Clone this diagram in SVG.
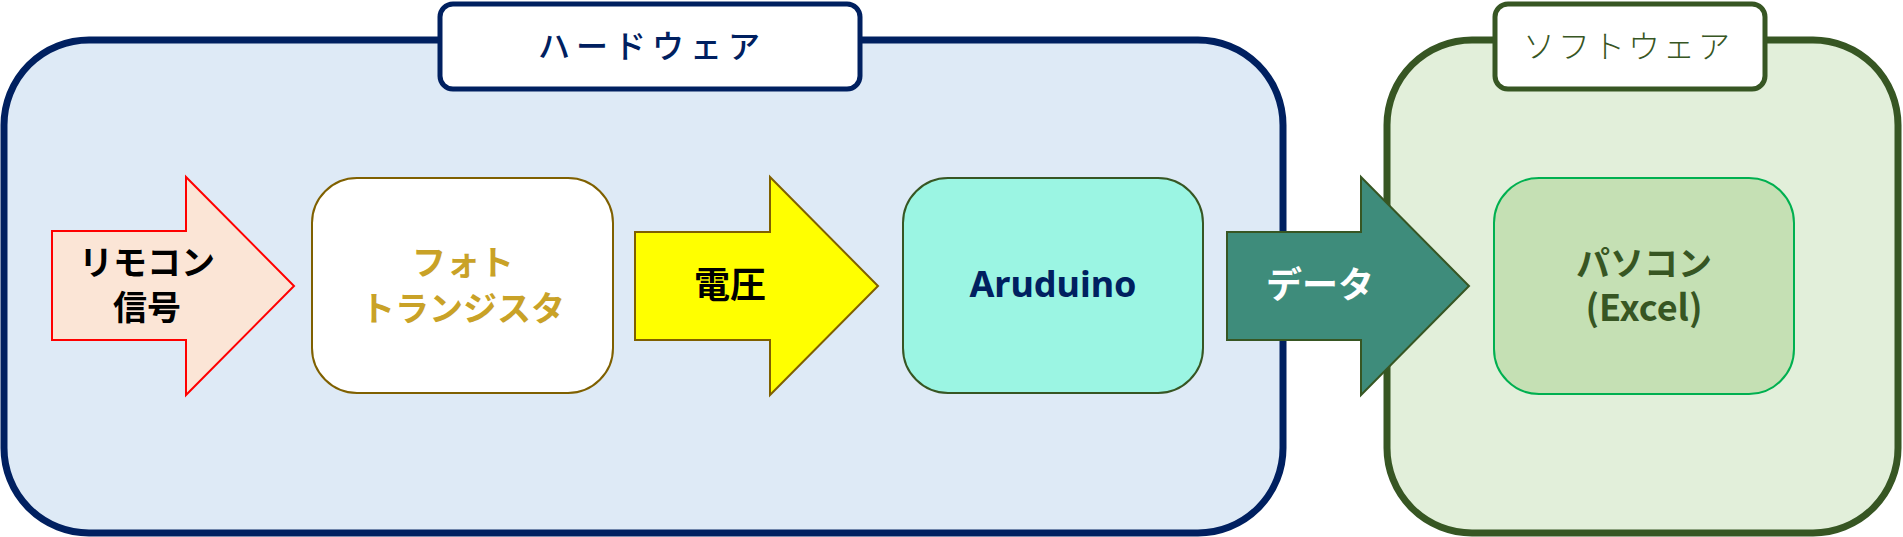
<svg xmlns="http://www.w3.org/2000/svg" width="1903" height="537" viewBox="0 0 1903 537">
<style>
.jp{font-family:"Noto Sans CJK JP","Noto Sans",sans-serif;text-anchor:middle;font-weight:bold}
.lat{font-family:"Noto Sans","Liberation Sans",sans-serif;text-anchor:middle;font-weight:bold}
.node{stroke-width:2}
</style>
<rect width="1903" height="537" fill="#ffffff"/>
<g id="hardware">
<rect x="4" y="40" width="1279" height="493" rx="85" ry="85" fill="#DEEAF6" stroke="#002060" stroke-width="7"/>
<rect x="440" y="4" width="420" height="85" rx="13" fill="#ffffff" stroke="#002060" stroke-width="5"/>
<text x="652" y="58" class="jp" style="font-weight:500" font-size="32" letter-spacing="6" fill="#002060">ハードウェア</text>
</g>
<g id="software">
<rect x="1387" y="40" width="511" height="493" rx="85" ry="85" fill="#E2EFDA" stroke="#375623" stroke-width="7"/>
<rect x="1495" y="4" width="270" height="85" rx="13" fill="#ffffff" stroke="#375623" stroke-width="5"/>
<text x="1628" y="58" class="jp" style="font-weight:300" font-size="32" letter-spacing="3" fill="#375623">ソフトウェア</text>
</g>
<g id="phototransistor">
<rect x="312" y="178" width="301" height="215" rx="45" fill="#ffffff" stroke="#7F6000" class="node"/>
<text x="463" y="275" class="jp" font-size="34" fill="#C9A227">フォト</text>
<text x="463" y="321" class="jp" font-size="34" fill="#C9A227">トランジスタ</text>
</g>
<g id="arduino">
<rect x="903" y="178" width="300" height="215" rx="45" fill="#9BF5E3" stroke="#375623" class="node"/>
<text x="1053" y="297" class="lat" font-size="36" fill="#002060">Aruduino</text>
</g>
<g id="pc">
<rect x="1494" y="178" width="300" height="216" rx="45" fill="#C5E0B4" stroke="#00B050" class="node"/>
<text x="1644" y="276" class="jp" font-size="34" fill="#375623">パソコン</text>
<text x="1644" y="321" class="jp" font-size="36" fill="#375623">(Excel)</text>
</g>
<g id="connectors">
<g id="signal">
<polygon points="52,231 186,231 186,177 294,286 186,395 186,340 52,340" fill="#FBE5D6" stroke="#FF0000" stroke-width="2"/>
<text x="147" y="275" class="jp" font-size="34" fill="#000000">リモコン</text>
<text x="147" y="320" class="jp" font-size="34" fill="#000000">信号</text>
</g>
<g id="voltage">
<polygon points="635,232 770,232 770,177 878,286 770,395 770,340 635,340" fill="#FFFF00" stroke="#7F6000" stroke-width="2"/>
<text x="730" y="298" class="jp" font-size="36" fill="#000000">電圧</text>
</g>
<g id="data">
<polygon points="1227,232 1361,232 1361,177 1469,286 1361,395 1361,340 1227,340" fill="#3E8C7B" stroke="#375623" stroke-width="2"/>
<text x="1320" y="298" class="jp" font-size="36" fill="#ffffff">データ</text>
</g>
</g>
</svg>
